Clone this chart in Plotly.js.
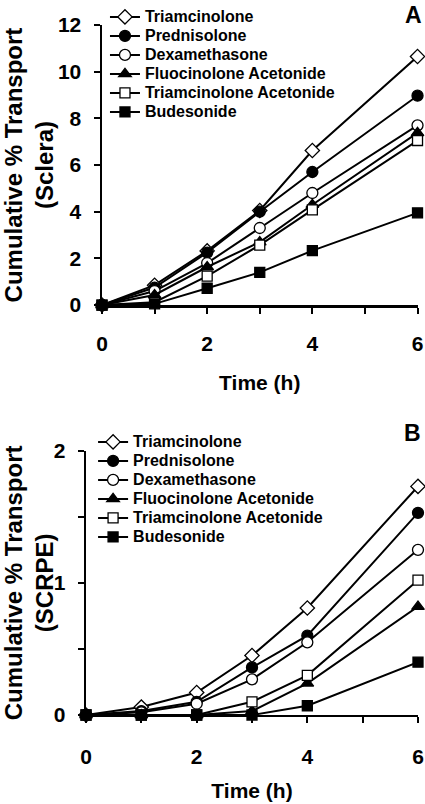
<!DOCTYPE html>
<html>
<head>
<meta charset="utf-8">
<script src="https://cdn.plot.ly/plotly-3.0.1.min.js"></script>
<style>html,body{margin:0;padding:0;background:#fff;}#chart{width:425px;height:804px;}</style>
</head>
<body>
<div id="chart"></div>
<script>
const timeH = [0, 1, 2, 3, 4, 6];
const seriesNames = ["Triamcinolone", "Prednisolone", "Dexamethasone", "Fluocinolone Acetonide", "Triamcinolone Acetonide", "Budesonide"];

// Panel A: Sclera
const scleraTriamcinolone = [0, 0.85, 2.32, 4.05, 6.62, 10.65];
const scleraPrednisolone = [0, 0.75, 2.25, 4.0, 5.7, 8.97];
const scleraDexamethasone = [0, 0.6, 1.8, 3.3, 4.8, 7.7];
const scleraFluocinolone = [0, 0.43, 1.63, 2.7, 4.3, 7.38];
const scleraTriamAcetonide = [0, 0.12, 1.24, 2.57, 4.08, 7.05];
const scleraBudesonide = [0, 0.05, 0.72, 1.4, 2.33, 3.95];

// Panel B: SCRPE
const scrpeTriamcinolone = [0, 0.06, 0.17, 0.45, 0.81, 1.73];
const scrpePrednisolone = [0, 0.03, 0.1, 0.36, 0.6, 1.53];
const scrpeDexamethasone = [0, 0.02, 0.085, 0.27, 0.55, 1.25];
const scrpeFluocinolone = [0, 0, 0, 0.03, 0.24, 0.82];
const scrpeTriamAcetonide = [0, 0, 0, 0.1, 0.3, 1.02];
const scrpeBudesonide = [0, 0, 0, 0, 0.07, 0.4];

const xTickVals = [0, 1, 2, 3, 4, 5, 6];
const xTickText = ["0", "", "2", "", "4", "", "6"];
const yATickVals = [0, 2, 4, 6, 8, 10, 12];
const yBTickVals = [0, 0.5, 1, 1.5, 2];
const yBTickText = ["0", "", "1", "", "2"];

const markerStyles = [
  {symbol: "diamond", color: "#ffffff", size: 11},
  {symbol: "circle", color: "#000000", size: 11},
  {symbol: "circle", color: "#ffffff", size: 11},
  {symbol: "triangle-up", color: "#000000", size: 11},
  {symbol: "square", color: "#ffffff", size: 10},
  {symbol: "square", color: "#000000", size: 10}
];

const dataA = [scleraTriamcinolone, scleraPrednisolone, scleraDexamethasone, scleraFluocinolone, scleraTriamAcetonide, scleraBudesonide];
const dataB = [scrpeTriamcinolone, scrpePrednisolone, scrpeDexamethasone, scrpeFluocinolone, scrpeTriamAcetonide, scrpeBudesonide];

const traces = [];
function addTraces(arr, xa, ya, leg) {
  arr.forEach((vals, i) => {
    const m = markerStyles[i];
    traces.push({
      x: timeH, y: vals, xaxis: xa, yaxis: ya, legend: leg,
      name: '<span style="font-size:16px">' + seriesNames[i] + '</span>',
      type: "scatter", mode: "lines+markers",
      cliponaxis: false,
      line: {color: "#000", width: 2},
      marker: {symbol: m.symbol, color: m.color, size: m.size, line: {color: "#000", width: 1.3}}
    });
  });
}
addTraces(dataA, "x", "y", "legend");
addTraces(dataB, "x2", "y2", "legend2");

const fam = "Liberation Sans, Arial, sans-serif";
const font = {family: fam, color: "#000", size: 21, weight: "bold"};

const xAxisBase = {
  range: [0, 6], tickvals: xTickVals, ticktext: xTickText,
  showline: true, linecolor: "#000", linewidth: 2.5, mirror: false,
  ticks: "outside", ticklen: 6, tickwidth: 2, tickcolor: "#000",
  showgrid: false, zeroline: false, automargin: false,
  tickfont: {family: fam, size: 21, color: "#000", weight: "bold"}
};
const yAxisBase = {
  showline: true, linecolor: "#000", linewidth: 2.5,
  ticks: "outside", ticklen: 6, tickwidth: 2, tickcolor: "#000",
  showgrid: false, zeroline: false, automargin: false,
  tickfont: {family: fam, size: 21, color: "#000", weight: "bold"},
  ticklabelstandoff: 8
};

const layout = {
  width: 425, height: 804,
  margin: {l: 0, r: 0, t: 0, b: 0},
  paper_bgcolor: "#fff", plot_bgcolor: "#fff",
  font: font,
  xaxis: Object.assign({}, xAxisBase, {domain: [0.24, 0.9824], anchor: "y", ticklabelstandoff: 12,
    title: {text: "Time (h)", font: {family: fam, size: 21, color: "#000", weight: "bold"}, standoff: 22}}),
  yaxis: Object.assign({}, yAxisBase, {domain: [0.6206, 0.9689], anchor: "x", range: [0, 12], tickvals: yATickVals,
    title: {text: "Cumulative % Transport<br>(Sclera)", font: {family: fam, size: 24, color: "#000", weight: "bold"}, standoff: 8}}),
  xaxis2: Object.assign({}, xAxisBase, {domain: [0.2024, 0.9835], anchor: "y2", ticklabelstandoff: 15,
    title: {text: "Time (h)", font: {family: fam, size: 21, color: "#000", weight: "bold"}, standoff: 17}}),
  yaxis2: Object.assign({}, yAxisBase, {domain: [0.1107, 0.4394], anchor: "x2", range: [0, 2], tickvals: yBTickVals, ticktext: yBTickText,
    title: {text: "Cumulative % Transport<br>(SCRPE)", font: {family: fam, size: 24, color: "#000", weight: "bold"}, standoff: 6}}),
  legend: {x: 0.247, y: 0.997, xanchor: "left", yanchor: "top", bgcolor: "rgba(0,0,0,0)",
    font: {family: fam, size: 12, color: "#000", weight: "bold"}, tracegroupgap: 0},
  legend2: {x: 0.219, y: 0.4684, xanchor: "left", yanchor: "top", bgcolor: "rgba(0,0,0,0)",
    font: {family: fam, size: 12, color: "#000", weight: "bold"}, tracegroupgap: 0},
  annotations: [
    {text: "A", x: 413 / 425, y: 1 - 15 / 804, xref: "paper", yref: "paper", xanchor: "center", yanchor: "middle", showarrow: false,
      font: {family: fam, size: 23, color: "#000", weight: "bold"}},
    {text: "B", x: 412 / 425, y: 1 - 433 / 804, xref: "paper", yref: "paper", xanchor: "center", yanchor: "middle", showarrow: false,
      font: {family: fam, size: 23, color: "#000", weight: "bold"}}
  ],
  showlegend: true
};

Plotly.newPlot("chart", traces, layout, {staticPlot: true, displayModeBar: false});
</script>
</body>
</html>
